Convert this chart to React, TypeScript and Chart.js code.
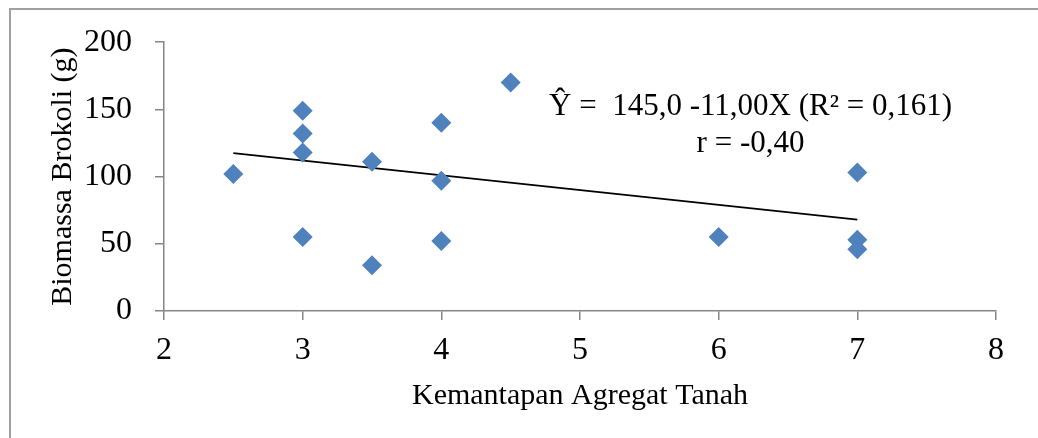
import React, { useEffect, useRef } from 'react';
import { Chart, registerables } from 'chart.js';

Chart.register(...registerables);

// ---- data ----
const xValues = [2.5, 3, 3, 3, 3, 3.5, 3.5, 4, 4, 4, 4.5, 6, 7, 7, 7];
const yValues = [102, 149, 132, 118, 55, 111, 34, 140, 97, 52, 170, 55, 103, 53, 46];
const trendX = [2.5, 7];
const trendY = [117.5, 68];
const xMin = 2;
const xMax = 8;
const xStep = 1;
const yMin = 0;
const yMax = 200;
const yStep = 50;
const xTitle = 'Kemantapan Agregat Tanah';
const yTitle = 'Biomassa Brokoli (g)';
const annotationLines = ['Ŷ =  145,0 -11,00X (R² = 0,161)', 'r = -0,40'];

const FONT = '"Liberation Serif", "Times New Roman", serif';
const AXIS_GRAY = '#868686';

const annotationPlugin = {
  id: 'eqAnnotation',
  afterDatasetsDraw(chart: any) {
    const { ctx, scales } = chart;
    const x = scales.x.getPixelForValue(6.23);
    const y1 = scales.y.getPixelForValue(146);
    ctx.save();
    ctx.font = `31px ${FONT}`;
    ctx.fillStyle = '#000';
    ctx.textAlign = 'center';
    ctx.textBaseline = 'alphabetic';
    ctx.fillText(annotationLines[0], x, y1);
    ctx.fillText(annotationLines[1], x, y1 + 37);
    ctx.restore();
  },
};

export default function App() {
  const ref = useRef<HTMLCanvasElement | null>(null);

  useEffect(() => {
    if (!ref.current) return;
    const points = xValues.map((x, i) => ({ x, y: yValues[i] }));
    const trend = trendX.map((x, i) => ({ x, y: trendY[i] }));
    const chart = new Chart(ref.current, {
      type: 'scatter',
      data: {
        datasets: [
          {
            type: 'line',
            data: trend,
            borderColor: '#000',
            borderWidth: 1.8,
            pointRadius: 0,
            fill: false,
            order: 2,
          } as any,
          {
            data: points,
            pointStyle: 'rectRot',
            pointRadius: 10,
            backgroundColor: '#4F81BD',
            borderColor: '#4F81BD',
            borderWidth: 0,
            order: 1,
          },
        ],
      },
      options: {
        responsive: false,
        animation: false,
        layout: { padding: { top: 38, right: 42, left: 0, bottom: 0 } },
        plugins: { legend: { display: false }, tooltip: { enabled: false } },
        scales: {
          x: {
            type: 'linear',
            position: 'bottom',
            min: xMin,
            max: xMax,
            ticks: { stepSize: xStep, color: '#000', font: { family: FONT, size: 32 }, padding: 11 },
            grid: { drawOnChartArea: false, drawTicks: true, tickLength: 9, color: AXIS_GRAY, lineWidth: 1.5 },
            border: { color: AXIS_GRAY, width: 1.5 },
            title: {
              display: true,
              text: xTitle,
              color: '#000',
              font: { family: FONT, size: 30 },
              padding: { top: 0, bottom: 24 },
            },
            afterFit: (s: any) => {
              s.height = 127;
            },
          },
          y: {
            type: 'linear',
            min: yMin,
            max: yMax,
            ticks: { stepSize: yStep, color: '#000', font: { family: FONT, size: 32 }, padding: 23 },
            grid: { drawOnChartArea: false, drawTicks: true, tickLength: 9, color: AXIS_GRAY, lineWidth: 1.5 },
            border: { color: AXIS_GRAY, width: 1.5 },
            title: {
              display: true,
              text: yTitle,
              color: '#000',
              font: { family: FONT, size: 30 },
              padding: { top: 45, bottom: 0 },
            },
            afterFit: (s: any) => {
              s.width = 164;
            },
          },
        },
      },
      plugins: [annotationPlugin],
    });
    return () => chart.destroy();
  }, []);

  return (
    <div
      style={{
        position: 'absolute',
        left: 0,
        top: 0,
        width: 1038,
        height: 438,
        overflow: 'hidden',
        background: '#fff',
      }}
    >
      <div
        style={{
          position: 'absolute',
          left: 9,
          top: 8,
          width: 1100,
          height: 600,
          borderTop: '2px solid #a0a0a0',
          borderLeft: '2px solid #a0a0a0',
        }}
      />
      <canvas ref={ref} width={1038} height={438} style={{ position: 'absolute', left: 0, top: 0 }} />
    </div>
  );
}
